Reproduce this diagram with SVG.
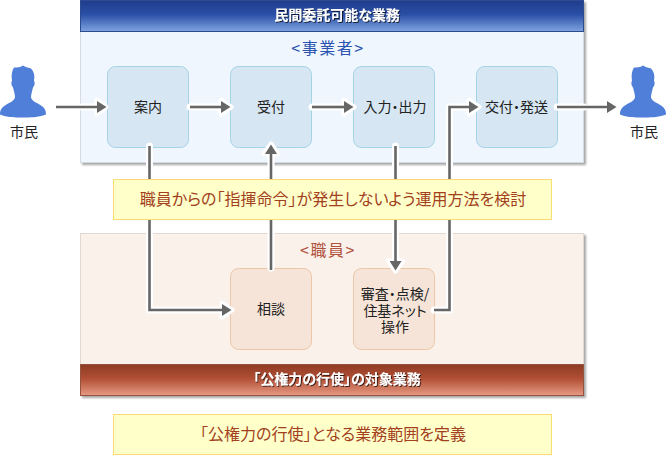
<svg xmlns="http://www.w3.org/2000/svg" width="666" height="456" viewBox="0 0 666 456">
<style>
text{font-family:"Noto Sans CJK JP","Noto Sans",sans-serif;text-anchor:middle;font-feature-settings:"palt"}
.lbl{font-size:14px;fill:#222}
.head{font-size:14px;font-weight:700;fill:#fff;filter:url(#ts)}
.ptitle{font-size:16px;letter-spacing:1.5px}
.blue{fill:#f0f6fe;stroke:#d4dbe4}
.salmon{fill:#faf1eb;stroke:#e3d8d2}
.nb{fill:#d6e6f3;stroke:#a5d3e6;stroke-width:1}
.ns{fill:#f5e4d7;stroke:#ecc6a6;stroke-width:1}
.note{fill:#ffffca;stroke:#fbdc74;stroke-width:1}
.noteT{font-size:16px;fill:#a23f1c}
.halo{fill:none;stroke:#fff;stroke-width:7;stroke-linejoin:round;stroke-linecap:round}
.line{fill:none;stroke:#666;stroke-width:2.600;marker-end:url(#a)}
.haloHead{fill:#fff;stroke:#fff;stroke-width:5;stroke-linejoin:round}
.person{fill:#4f7fd9}
</style>
<defs>
<linearGradient id="gb" x1="0" y1="0" x2="0" y2="1"><stop offset="0" stop-color="#1f3c8c"/><stop offset=".45" stop-color="#2a4fa6"/><stop offset="1" stop-color="#7fa4e0"/></linearGradient>
<linearGradient id="gr" x1="0" y1="0" x2="0" y2="1"><stop offset="0" stop-color="#8f3c24"/><stop offset=".45" stop-color="#b04f35"/><stop offset="1" stop-color="#e89a84"/></linearGradient>
<filter id="ts" x="-10%" y="-30%" width="120%" height="170%"><feDropShadow dx="1" dy="1" stdDeviation="0.5" flood-color="#000" flood-opacity=".7"/></filter>
<filter id="ps" x="-2%" y="-2%" width="104%" height="106%"><feDropShadow dx="2" dy="2" stdDeviation="1" flood-color="#000" flood-opacity=".35"/></filter>
<marker id="a" markerUnits="userSpaceOnUse" markerWidth="10" markerHeight="12" refX="0" refY="6" orient="auto"><path d="M0 0L9.500 6L0 12Z" fill="#666"/></marker>
<path id="p" d="M23 0C26 2 29 2 31 3C34 6 35 10 34 15C35 17 35 20 33 22C32 26 31 29 31 32C32 36 37 37 41 40C44 42 46 44 46 49C38 52 30 52 23 52C15 52 7 52 0 49C0 44 2 42 5 40C9 37 14 36 15 32C15 29 14 26 13 22C11 20 11 17 12 15C11 10 12 5 14 2C17 2 20 2 23 0Z"/>
</defs>

<g id="panel-upper">
<rect class="blue" x="80.500" y="0.500" width="503" height="162" filter="url(#ps)"/>
<rect x="80.500" y="0.500" width="503" height="31" fill="url(#gb)" stroke="#2b4a8f"/>
<text class="head" x="337" y="20">民間委託可能な業務</text>
<text class="ptitle" x="328" y="54" fill="#2b55b0">&lt;事業者&gt;</text>
</g>
<g id="panel-lower">
<rect class="salmon" x="80.500" y="233.500" width="503" height="162" filter="url(#ps)"/>
<rect x="80.500" y="364.500" width="503" height="31" fill="url(#gr)" stroke="#94523f"/>
<text class="head" x="337" y="384">「公権力の行使」の対象業務</text>
<text class="ptitle" x="328" y="256" fill="#b0523c">&lt;職員&gt;</text>
</g>

<g id="citizen-left"><use href="#p" class="person" x="0" y="65.500"/><text class="lbl" x="24" y="137">市民</text></g>
<g id="citizen-right"><use href="#p" class="person" x="620" y="65.500"/><text class="lbl" x="644" y="137">市民</text></g>

<g id="node-annai"><rect class="nb" x="107.500" y="66.500" width="81" height="81" rx="8"/><text class="lbl" x="148" y="112">案内</text></g>
<g id="node-uketsuke"><rect class="nb" x="230.500" y="66.500" width="81" height="81" rx="8"/><text class="lbl" x="271" y="112">受付</text></g>
<g id="node-nyushutsu"><rect class="nb" x="353.500" y="66.500" width="81" height="81" rx="8"/><text class="lbl" x="395" y="112">入力・出力</text></g>
<g id="node-kofu"><rect class="nb" x="476.500" y="66.500" width="81" height="81" rx="8"/><text class="lbl" x="516.500" y="112">交付・発送</text></g>
<g id="node-sodan"><rect class="ns" x="230.500" y="268.500" width="81" height="81" rx="8"/><text class="lbl" x="271" y="314">相談</text></g>
<g id="node-shinsa"><rect class="ns" x="353.500" y="268.500" width="81" height="81" rx="8"/><text class="lbl"><tspan x="395" y="299">審査・点検/</tspan><tspan x="395" y="315.500">住基ネット</tspan><tspan x="395" y="332">操作</tspan></text></g>

<g id="connectors">
<path class="halo" d="M81 107H101"/><path class="haloHead" d="M97 100L106 107L97 114Z"/>
<path class="line" d="M56 107H97"/>
<path class="halo" d="M190 107H225"/><path class="haloHead" d="M221 100L231 107L221 114Z"/>
<path class="line" d="M190 107H221"/>
<path class="halo" d="M312 107H345"/><path class="haloHead" d="M344 100L354 107L344 114Z"/>
<path class="line" d="M312 107H344"/>
<path class="halo" d="M557 107H584"/>
<path class="line" d="M557 107H607"/>
<path class="halo" d="M149.500 146V310H225"/><path class="haloHead" d="M222 303L232 310L222 317Z"/>
<path class="line" d="M149.500 146V310H222"/>
<path class="halo" d="M271 268V155"/><path class="haloHead" d="M264 154L271 144L278 154Z"/>
<path class="line" d="M271 270V154"/>
<path class="halo" d="M395.500 146V262"/><path class="haloHead" d="M388.500 261L395.500 271L402.500 261Z"/>
<path class="line" d="M395.500 146V261"/>
<path class="halo" d="M434 310H449.500V107H472"/><path class="haloHead" d="M469 100L479 107L469 114Z"/>
<path class="line" d="M434 310H449.500V107H469"/>
</g>

<g id="note-top"><rect class="note" x="113.500" y="179.500" width="438" height="40"/><text class="noteT" x="333" y="205">職員からの「指揮命令」が発生しないよう運用方法を検討</text></g>
<g id="note-bottom"><rect class="note" x="113.500" y="414.500" width="438" height="40"/><text class="noteT" x="333" y="440">「公権力の行使」となる業務範囲を定義</text></g>
</svg>
